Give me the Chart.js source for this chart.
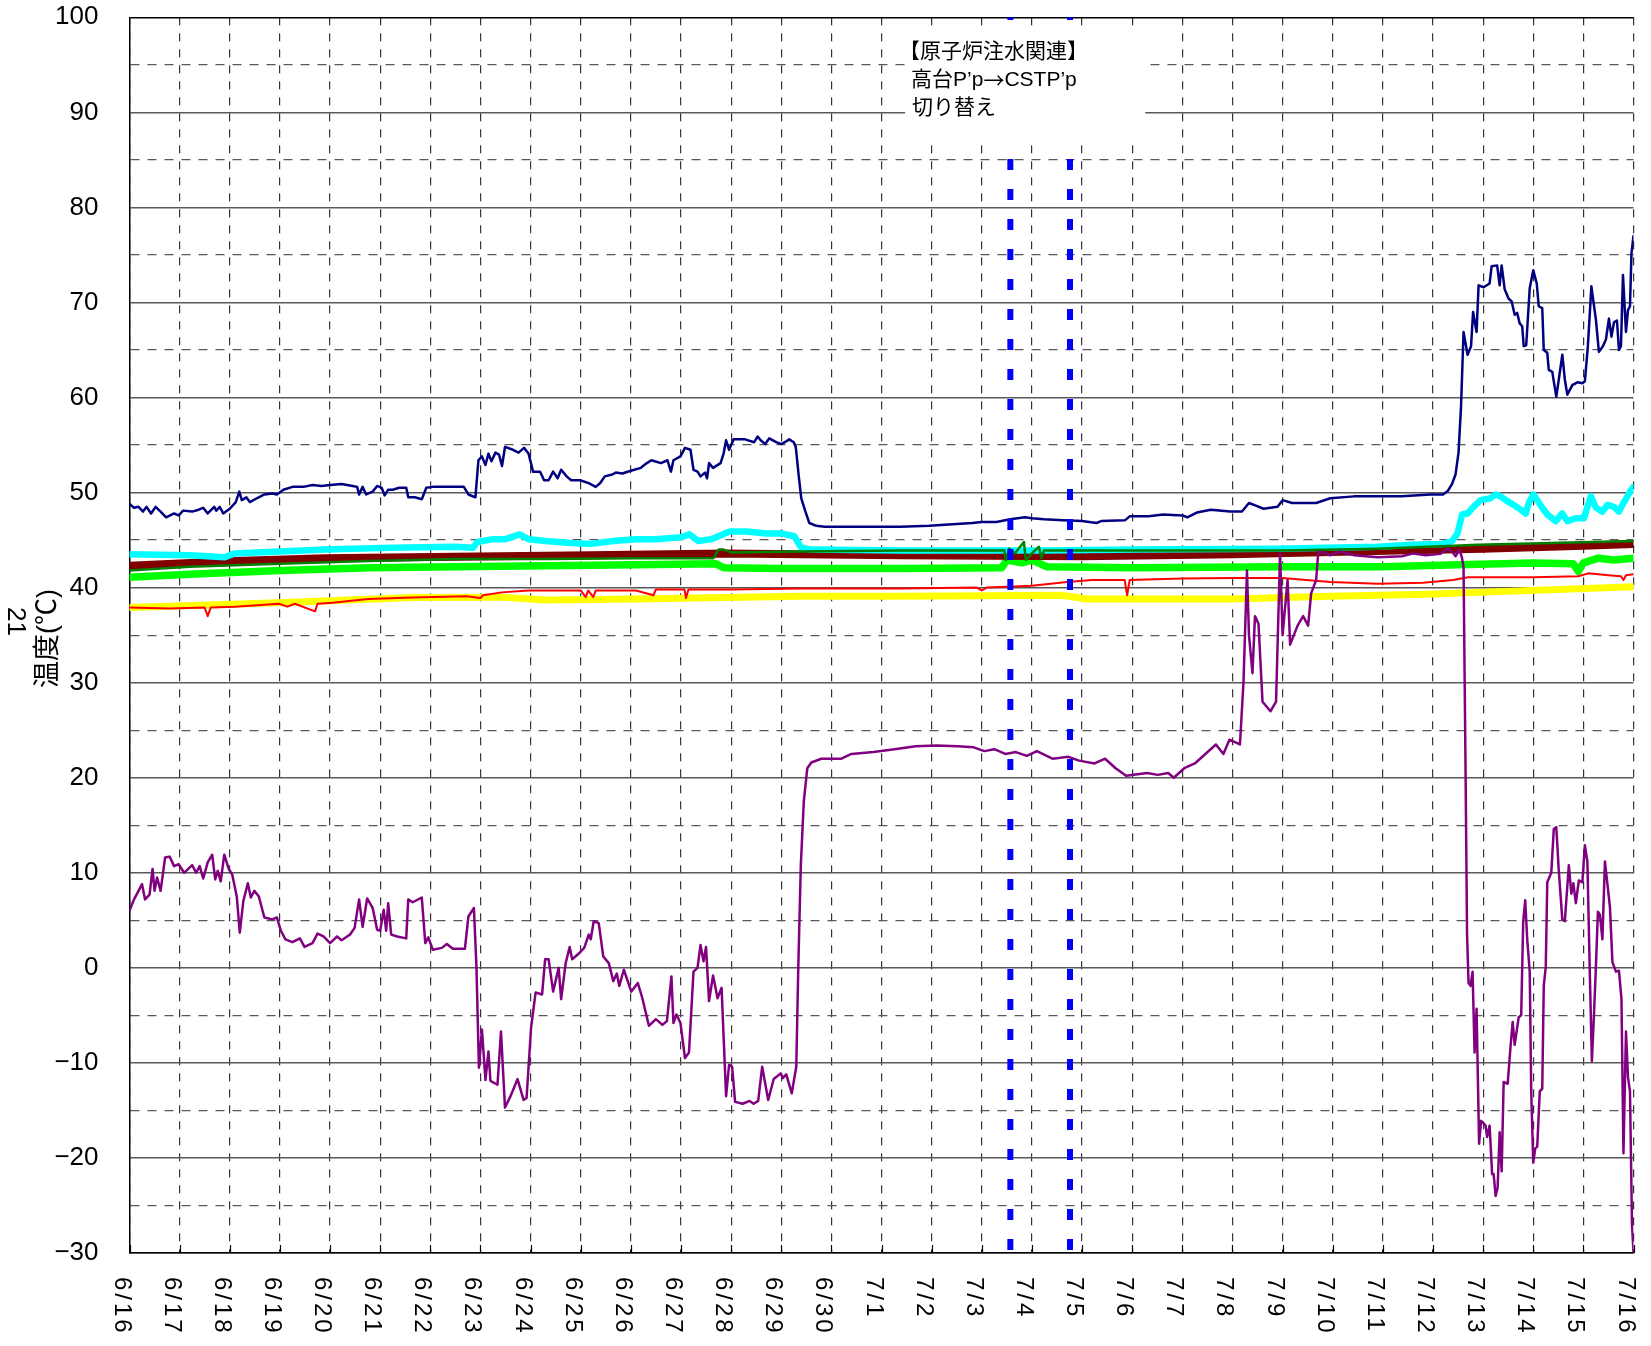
<!DOCTYPE html>
<html lang="ja">
<head>
<meta charset="UTF-8">
<title>温度</title>
<script src="https://cdn.jsdelivr.net/npm/chart.js"></script>
<style>
  body { margin: 0; background: #ffffff; }
  #wrap { width: 1651px; height: 1346px; }
</style>
</head>
<body>
<div id="wrap"><canvas id="tempChart" width="1651" height="1346"></canvas></div>
<script>
// x = days since 6/16 00:00, y = temperature (℃)
const tickLabels = ['6/16','6/17','6/18','6/19','6/20','6/21','6/22','6/23','6/24','6/25','6/26','6/27','6/28','6/29','6/30',
  '7/1','7/2','7/3','7/4','7/5','7/6','7/7','7/8','7/9','7/10','7/11','7/12','7/13','7/14','7/15','7/16'];
const switchDays = [17.57, 18.76];
const noteLines = ['【原子炉注水関連】', '高台P’p→CSTP’p', '切り替え'];
const yTitle = '温度(℃)';
const sideMark = '21';

const navySeries = [[0,48.8],[0.09,48.4],[0.18,48.5],[0.27,48.0],[0.34,48.5],[0.43,47.8],[0.52,48.5],[0.62,48.0],[0.73,47.4],[0.89,47.8],[0.98,47.6],[1.07,48.1],[1.25,48.0],[1.38,48.2],[1.47,48.4],[1.56,47.8],[1.69,48.5],[1.73,48.1],[1.8,48.5],[1.87,47.8],[2.0,48.3],[2.12,49.0],[2.19,50.1],[2.24,49.2],[2.33,49.5],[2.4,49.0],[2.54,49.4],[2.69,49.8],[2.85,49.9],[2.94,49.8],[3.07,50.3],[3.25,50.6],[3.47,50.6],[3.65,50.8],[3.83,50.7],[4.0,50.8],[4.23,50.9],[4.45,50.7],[4.54,50.6],[4.58,49.8],[4.65,50.6],[4.72,49.8],[4.85,50.1],[4.94,50.7],[5.03,50.5],[5.09,49.7],[5.16,50.3],[5.25,50.3],[5.38,50.5],[5.52,50.5],[5.56,49.5],[5.69,49.5],[5.83,49.3],[5.92,50.5],[6.05,50.6],[6.32,50.6],[6.67,50.6],[6.76,49.8],[6.9,49.5],[6.96,53.4],[7.03,53.8],[7.1,52.9],[7.16,54.1],[7.22,53.3],[7.3,54.2],[7.37,54.0],[7.43,52.8],[7.49,54.8],[7.65,54.5],[7.76,54.2],[7.87,54.7],[7.96,54.1],[8.05,52.2],[8.19,52.2],[8.27,51.3],[8.36,51.3],[8.45,52.2],[8.54,51.5],[8.61,52.4],[8.72,51.7],[8.81,51.3],[8.99,51.3],[9.16,51.0],[9.3,50.6],[9.39,51.0],[9.48,51.7],[9.63,51.9],[9.7,52.1],[9.83,52.0],[10.0,52.3],[10.2,52.6],[10.32,53.1],[10.41,53.4],[10.6,53.1],[10.73,53.4],[10.8,52.2],[10.85,53.4],[10.99,53.8],[11.08,54.7],[11.19,54.5],[11.25,52.4],[11.33,52.2],[11.39,51.7],[11.48,52.1],[11.52,51.5],[11.56,53.1],[11.64,52.6],[11.79,53.1],[11.85,54.1],[11.9,55.5],[11.96,54.5],[12.05,55.6],[12.28,55.6],[12.46,55.3],[12.53,55.9],[12.59,55.5],[12.68,55.1],[12.76,55.7],[12.9,55.3],[13.0,55.1],[13.07,55.3],[13.16,55.6],[13.25,55.3],[13.29,54.8],[13.35,51.7],[13.4,49.4],[13.47,48.2],[13.56,46.8],[13.7,46.5],[13.86,46.4],[14.6,46.4],[15.38,46.4],[15.95,46.5],[16.81,46.8],[17.0,46.9],[17.29,46.9],[17.57,47.2],[17.86,47.4],[18.0,47.3],[18.24,47.2],[18.62,47.1],[19.0,47.0],[19.29,46.8],[19.38,47.0],[19.86,47.1],[19.95,47.5],[20.33,47.5],[20.62,47.7],[21.0,47.6],[21.1,47.4],[21.29,47.9],[21.57,48.2],[21.95,48.0],[22.19,48.0],[22.33,48.9],[22.48,48.6],[22.62,48.3],[22.9,48.5],[23.0,49.2],[23.19,48.9],[23.67,48.9],[23.95,49.4],[24.43,49.6],[24.9,49.6],[25.38,49.6],[25.95,49.8],[26.2,49.8],[26.3,50.2],[26.38,50.9],[26.45,51.9],[26.51,54.2],[26.56,59.1],[26.61,66.9],[26.69,64.5],[26.76,65.4],[26.8,69.0],[26.87,66.9],[26.91,71.8],[27.01,71.6],[27.13,72.0],[27.17,73.8],[27.28,73.9],[27.33,71.8],[27.37,73.9],[27.43,71.4],[27.51,70.4],[27.57,70.1],[27.63,68.7],[27.68,68.9],[27.73,67.8],[27.78,67.5],[27.81,65.4],[27.86,65.5],[27.93,71.5],[28.0,73.4],[28.07,72.0],[28.11,69.6],[28.18,69.4],[28.21,65.0],[28.28,64.7],[28.31,62.9],[28.38,62.7],[28.41,61.7],[28.46,60.1],[28.51,61.9],[28.58,64.5],[28.63,61.9],[28.68,60.3],[28.78,61.3],[28.88,61.6],[28.98,61.5],[29.03,61.7],[29.09,65.4],[29.16,71.7],[29.25,68.2],[29.31,64.8],[29.39,65.4],[29.45,66.1],[29.51,68.3],[29.56,66.4],[29.61,67.9],[29.67,68.1],[29.71,65.0],[29.75,65.4],[29.79,72.9],[29.85,66.9],[29.89,69.2],[29.93,69.6],[29.96,75.2],[30.0,77.0]];

const cyanSeries = [[0,43.5],[1.2,43.4],[1.9,43.2],[2.1,43.6],[3.0,43.8],[3.9,44.0],[5.2,44.2],[6.5,44.3],[6.85,44.2],[6.94,44.8],[7.25,45.1],[7.5,45.1],[7.78,45.6],[7.96,45.1],[8.3,44.9],[8.8,44.7],[9.2,44.6],[9.65,44.9],[10.1,45.1],[10.5,45.1],[11.0,45.3],[11.17,45.6],[11.35,44.9],[11.6,45.1],[11.83,45.6],[11.97,45.9],[12.3,45.9],[12.7,45.7],[13.0,45.7],[13.26,45.4],[13.4,44.2],[13.6,44.0],[15.4,43.9],[18.2,43.9],[20.1,44.0],[22.9,44.1],[24.9,44.3],[25.6,44.5],[26.2,44.6],[26.38,44.9],[26.49,45.7],[26.58,47.7],[26.69,47.8],[26.81,48.5],[26.95,49.2],[27.15,49.4],[27.25,49.8],[27.35,49.6],[27.48,49.1],[27.61,48.7],[27.75,48.2],[27.85,47.8],[27.91,48.9],[28.0,49.8],[28.08,49.2],[28.18,48.4],[28.28,47.7],[28.45,47.0],[28.58,47.8],[28.68,47.0],[28.85,47.3],[29.01,47.3],[29.15,49.6],[29.25,48.4],[29.38,48.0],[29.48,48.7],[29.61,48.5],[29.71,48.0],[29.8,48.9],[29.91,49.9],[30.0,50.6]];

const greenSeries = [[0,41.8],[1.2,42.2],[3.0,42.5],[4.76,42.8],[6.54,43.0],[8.3,43.0],[10.1,43.1],[11.65,43.1],[11.75,44.0],[11.85,44.0],[12.0,43.7],[13.37,43.8],[15.4,43.9],[17.45,43.9],[17.48,42.9],[17.55,44.1],[17.66,43.6],[17.84,44.8],[17.88,42.9],[18.0,43.6],[18.14,44.3],[18.19,43.1],[18.24,43.9],[20.0,43.9],[23.0,43.9],[24.9,44.1],[25.9,44.3],[26.9,44.5],[30.0,44.9]];

const maroonSeries = [[0,42.3],[2.1,42.8],[3.9,43.1],[5.6,43.2],[7.4,43.3],[9.2,43.4],[11.9,43.6],[13.4,43.5],[15.4,43.4],[19.0,43.3],[22.0,43.5],[25.3,43.9],[27.0,44.1],[29.0,44.4],[30.0,44.6]];

const limeSeries = [[0,41.1],[1.2,41.4],[3.0,41.8],[4.8,42.1],[6.5,42.2],[8.3,42.3],[10.1,42.4],[11.7,42.5],[11.85,42.1],[13.0,42.0],[15.4,42.0],[17.4,42.1],[17.5,42.9],[17.8,42.6],[18.0,42.9],[18.3,42.2],[20.0,42.1],[23.0,42.2],[25.0,42.2],[26.5,42.4],[28.0,42.6],[28.8,42.5],[28.9,41.7],[29.0,42.6],[29.3,43.1],[29.6,42.9],[30.0,43.1]];

const redSeries = [[0,37.9],[0.8,37.8],[1.5,37.9],[1.56,37.0],[1.62,37.9],[2.1,38.0],[2.98,38.3],[3.15,38.0],[3.3,38.3],[3.7,37.5],[3.75,38.3],[4.05,38.4],[4.76,38.8],[5.65,38.95],[6.72,39.1],[7.0,38.9],[7.05,39.2],[7.43,39.5],[7.96,39.7],[9.0,39.7],[9.1,39.0],[9.15,39.7],[9.25,39.0],[9.3,39.7],[10.1,39.7],[10.45,39.2],[10.5,39.8],[11.07,39.8],[11.1,38.9],[11.15,39.8],[12.0,39.8],[13.4,39.9],[15.4,39.9],[16.9,40.0],[17.0,39.7],[17.1,40.0],[17.5,40.1],[18.0,40.2],[18.7,40.6],[19.2,40.8],[19.85,40.8],[19.9,39.2],[19.95,40.8],[21.0,40.95],[22.0,41.0],[23.0,41.0],[23.95,40.6],[24.9,40.4],[25.8,40.5],[26.4,40.8],[26.7,41.1],[28.0,41.1],[28.9,41.2],[29.1,41.5],[29.5,41.3],[29.75,41.2],[29.8,40.8],[29.85,41.3],[30.0,41.4]];

const yellowSeries = [[0,37.9],[2.98,38.4],[5.65,38.95],[7.4,39.0],[8.3,38.7],[10.1,38.8],[13.4,39.1],[15.4,39.1],[18.6,39.2],[19.1,38.8],[22.0,38.8],[23.95,39.1],[25.9,39.3],[26.9,39.5],[30.0,40.1]];

const purpleSeries = [[0,6.0],[0.09,7.2],[0.18,8.1],[0.25,8.8],[0.31,7.2],[0.4,7.7],[0.46,10.4],[0.5,8.1],[0.55,9.5],[0.62,8.1],[0.71,11.6],[0.8,11.7],[0.89,10.7],[0.98,10.9],[1.09,10.0],[1.25,10.8],[1.33,10.0],[1.4,10.7],[1.47,9.4],[1.56,11.1],[1.65,11.9],[1.71,9.3],[1.76,10.2],[1.82,9.1],[1.89,11.9],[1.98,10.4],[2.05,9.8],[2.14,7.5],[2.2,3.7],[2.27,7.0],[2.36,8.9],[2.42,7.4],[2.49,8.1],[2.58,7.5],[2.69,5.3],[2.85,5.1],[2.94,5.3],[3.02,3.9],[3.11,3.0],[3.25,2.7],[3.4,3.1],[3.49,2.2],[3.65,2.6],[3.75,3.6],[3.87,3.3],[4.0,2.6],[4.14,3.3],[4.23,2.9],[4.4,3.5],[4.49,4.2],[4.58,7.2],[4.65,4.3],[4.74,7.3],[4.85,6.3],[4.94,4.0],[5.0,3.9],[5.07,6.1],[5.12,3.9],[5.16,6.8],[5.22,3.5],[5.34,3.3],[5.52,3.1],[5.56,7.2],[5.65,6.9],[5.83,7.4],[5.9,2.6],[5.96,3.2],[6.05,1.9],[6.23,2.1],[6.33,2.5],[6.45,2.0],[6.69,2.0],[6.76,5.4],[6.87,6.3],[6.92,0.2],[6.97,-10.5],[7.03,-6.5],[7.1,-11.8],[7.16,-8.8],[7.2,-11.9],[7.34,-12.3],[7.41,-6.7],[7.49,-14.7],[7.6,-13.5],[7.74,-11.7],[7.86,-13.9],[7.92,-13.7],[8.01,-6.3],[8.1,-2.6],[8.23,-2.8],[8.29,0.9],[8.36,0.9],[8.45,-2.5],[8.56,0.0],[8.61,-3.3],[8.7,0.5],[8.78,2.2],[8.83,0.9],[8.94,1.4],[9.07,2.1],[9.16,3.5],[9.2,3.0],[9.26,4.9],[9.36,4.7],[9.45,1.2],[9.56,0.5],[9.65,-1.4],[9.72,-0.6],[9.77,-1.9],[9.86,-0.2],[10.01,-2.5],[10.14,-1.6],[10.23,-3.2],[10.36,-6.1],[10.5,-5.4],[10.63,-6.0],[10.72,-5.6],[10.81,-0.9],[10.85,-5.8],[10.91,-4.9],[10.99,-5.8],[11.08,-9.5],[11.16,-8.9],[11.25,-0.4],[11.33,0.0],[11.39,2.4],[11.45,0.7],[11.5,2.2],[11.56,-3.5],[11.64,-0.8],[11.73,-3.2],[11.81,-2.1],[11.9,-13.5],[11.96,-10.2],[12.02,-10.4],[12.08,-14.1],[12.23,-14.3],[12.37,-14.0],[12.45,-14.3],[12.54,-14.0],[12.62,-10.4],[12.74,-13.9],[12.85,-11.7],[12.99,-11.1],[13.03,-11.6],[13.1,-11.2],[13.21,-13.2],[13.3,-10.4],[13.34,0.0],[13.39,10.7],[13.45,17.5],[13.52,21.0],[13.6,21.6],[13.8,22.0],[14.2,22.0],[14.4,22.5],[14.84,22.7],[15.26,23.0],[15.68,23.3],[16.1,23.4],[16.52,23.3],[16.84,23.2],[17.05,22.8],[17.25,23.0],[17.47,22.5],[17.68,22.7],[17.9,22.3],[18.1,22.8],[18.41,22.0],[18.73,22.2],[18.94,21.8],[19.25,21.5],[19.46,22.0],[19.67,21.0],[19.88,20.2],[20.3,20.5],[20.51,20.3],[20.72,20.5],[20.83,20.0],[21.04,21.0],[21.25,21.5],[21.46,22.5],[21.67,23.5],[21.82,22.5],[21.94,24.0],[22.15,23.5],[22.22,30.0],[22.29,41.8],[22.33,35.0],[22.4,31.0],[22.45,37.0],[22.52,36.2],[22.6,28.0],[22.76,27.0],[22.87,28.0],[22.95,43.6],[23.0,35.0],[23.1,40.8],[23.15,34.0],[23.3,36.0],[23.41,37.0],[23.51,36.0],[23.57,39.4],[23.67,40.8],[23.71,43.6],[23.76,43.8],[23.95,43.4],[24.14,43.8],[24.43,43.4],[24.9,43.2],[25.38,43.3],[25.61,43.6],[25.86,43.4],[26.15,43.55],[26.28,44.1],[26.38,43.8],[26.45,43.3],[26.53,44.0],[26.58,43.1],[26.61,42.1],[26.65,20.8],[26.68,3.5],[26.71,-1.6],[26.75,-1.9],[26.79,-0.4],[26.83,-8.9],[26.87,-4.3],[26.92,-18.5],[26.96,-16.1],[27.05,-16.6],[27.08,-17.8],[27.13,-16.6],[27.18,-21.7],[27.21,-21.7],[27.25,-24.0],[27.29,-23.1],[27.33,-17.3],[27.37,-21.4],[27.41,-12.0],[27.49,-12.2],[27.55,-8.1],[27.59,-5.7],[27.63,-8.1],[27.71,-5.2],[27.76,-5.0],[27.8,4.9],[27.84,7.1],[27.88,3.0],[27.93,-0.4],[27.96,-13.0],[28.0,-20.5],[28.04,-19.0],[28.08,-18.8],[28.13,-13.0],[28.18,-12.7],[28.21,-1.9],[28.25,0.1],[28.28,9.0],[28.36,10.0],[28.41,14.6],[28.46,14.8],[28.51,10.2],[28.58,5.1],[28.63,4.9],[28.71,10.8],[28.76,7.8],[28.8,8.9],[28.85,6.8],[28.91,9.2],[28.98,9.0],[29.03,12.9],[29.08,11.2],[29.13,-0.9],[29.17,-9.8],[29.21,-5.2],[29.25,0.1],[29.29,5.9],[29.33,5.6],[29.38,3.0],[29.43,11.2],[29.48,8.8],[29.53,6.4],[29.58,0.6],[29.65,-0.4],[29.71,-0.3],[29.76,-3.3],[29.8,-19.5],[29.85,-6.7],[29.89,-11.5],[29.93,-13.0],[29.97,-27.0],[30.0,-29.9]];

const toXY = pts => pts.map(p => ({ x: p[0], y: p[1] }));

function series(pts, color, width, extra) {
    return Object.assign({
        data: toXY(pts),
        borderColor: color,
        backgroundColor: color,
        borderWidth: width,
        pointRadius: 0,
        tension: 0,
        fill: false,
        borderJoinStyle: 'round',
        borderCapStyle: 'round'
    }, extra || {});
}

// blue switch-over markers, drawn top to bottom
const markerSets = switchDays.map(d => series([[d, 100], [d, -30]], '#0000ff', 6,
    { borderDash: [11, 19], borderDashOffset: 8.3, borderCapStyle: 'butt' }));

// first in list = drawn on top
const datasets = [
    ...markerSets,
    series(purpleSeries, '#800080', 2.5),
    series(navySeries, '#000080', 2.5),
    series(redSeries, '#ff0000', 2),
    series(greenSeries, '#008000', 2.5),
    series(cyanSeries, '#00ffff', 6.5),
    series(maroonSeries, '#800000', 8),
    series(limeSeries, '#00ff00', 7.5),
    series(yellowSeries, '#ffff00', 7)
];

const latinFont = '21px "Liberation Sans", "Noto Sans CJK JP"';
const cjkFont = '21px "Noto Sans CJK JP"';

// draw one note line; the arrow comes from the CJK face (wide arrow)
function drawNoteLine(ctx, text, x, y) {
    const parts = text.split('→');
    ctx.font = latinFont;
    const first = ctx.measureText(parts[0]);
    let cx = x + first.actualBoundingBoxLeft;
    parts.forEach((p, i) => {
        if (i > 0) {
            ctx.font = cjkFont;
            ctx.fillText('→', cx, y);
            cx += ctx.measureText('→').width;
        }
        ctx.font = latinFont;
        ctx.fillText(p, cx, y);
        cx += ctx.measureText(p).width;
    });
}

const decor = {
    id: 'decor',
    afterDatasetsDraw(chart) {
        const { ctx, scales: { x, y } } = chart;
        // white note box over the grid
        const left = x.getPixelForValue(15.47), right = x.getPixelForValue(20.26);
        const top = y.getPixelForValue(98.9), bottom = y.getPixelForValue(86.7);
        ctx.save();
        ctx.fillStyle = '#ffffff';
        ctx.fillRect(left, top, right - left, bottom - top);
        ctx.fillStyle = '#000000';
        ctx.textBaseline = 'middle';
        ctx.textAlign = 'left';
        noteLines.forEach((t, i) => drawNoteLine(ctx, t, left + 7, top + 24 + i * 28));
        ctx.restore();
    },
    afterDraw(chart) {
        const { ctx, chartArea, scales: { x } } = chart;
        ctx.save();
        // small inward ticks on the date axis
        ctx.strokeStyle = '#000000';
        ctx.lineWidth = 1.2;
        tickLabels.forEach((lab, i) => {
            const px = Math.round(x.getPixelForValue(i)) + 0.5;
            ctx.beginPath();
            ctx.moveTo(px, chartArea.bottom);
            ctx.lineTo(px, chartArea.bottom - 8);
            ctx.stroke();
        });
        // date labels, turned clockwise
        ctx.fillStyle = '#000000';
        ctx.font = '24px "Liberation Sans"';
        ctx.letterSpacing = '3px';
        ctx.textAlign = 'left';
        ctx.textBaseline = 'alphabetic';
        tickLabels.forEach((lab, i) => {
            const px = x.getPixelForValue(i);
            ctx.save();
            ctx.translate(px - 15, chartArea.bottom + 24);
            ctx.rotate(Math.PI / 2);
            ctx.fillText(lab, 0, 0);
            ctx.restore();
        });
        ctx.letterSpacing = '0px';
        // axis title
        ctx.textAlign = 'center';
        ctx.textBaseline = 'middle';
        ctx.font = '27px "Liberation Sans", "Noto Sans CJK JP"';
        ctx.save();
        ctx.translate(48.5, 638.5);
        ctx.rotate(-Math.PI / 2);
        ctx.fillText(yTitle, 0, 0);
        ctx.restore();
        ctx.font = '26px "Liberation Sans"';
        ctx.save();
        ctx.translate(15.5, 621.5);
        ctx.rotate(Math.PI / 2);
        ctx.fillText(sideMark, 0, 0);
        ctx.restore();
        ctx.restore();
    }
};

const ctx = document.getElementById('tempChart').getContext('2d');
const chart = new Chart(ctx, {
    type: 'line',
    data: { datasets: datasets },
    options: {
        responsive: false,
        animation: false,
        devicePixelRatio: 1,
        layout: { padding: { left: 0, top: 17.3, right: 17.5, bottom: 0 } },
        plugins: { legend: { display: false }, tooltip: { enabled: false } },
        scales: {
            x: {
                type: 'linear',
                min: 0,
                max: 30,
                afterFit: s => { s.height = 93; },
                ticks: { stepSize: 1, display: false, autoSkip: false },
                grid: { color: '#333333', lineWidth: 1.2, drawTicks: false },
                border: { display: true, color: '#000000', width: 1.5, dash: c => c.tick ? [8, 8] : [] }
            },
            y: {
                min: -30,
                max: 100,
                afterFit: s => { s.width = 129.5; },
                ticks: {
                    stepSize: 5,
                    autoSkip: false,
                    padding: 0,
                    color: '#000000',
                    font: { family: 'Liberation Sans', size: 26 },
                    callback: v => v % 10 === 0 ? (v < 0 ? '\u2212' + (-v) : String(v)) : ''
                },
                grid: {
                    drawTicks: true,
                    tickLength: 31,
                    tickColor: 'rgba(0,0,0,0)',
                    color: c => (c.tick && c.tick.value === 100) ? '#000000' : '#595959',
                    lineWidth: c => (c.tick && c.tick.value % 10 === 0) ? 1.5 : 1.2
                },
                border: { display: true, color: '#000000', width: 1.5, dash: c => (c.tick && c.tick.value % 10 !== 0) ? [9, 8] : [] }
            }
        }
    },
    plugins: [decor]
});
</script>
</body>
</html>
